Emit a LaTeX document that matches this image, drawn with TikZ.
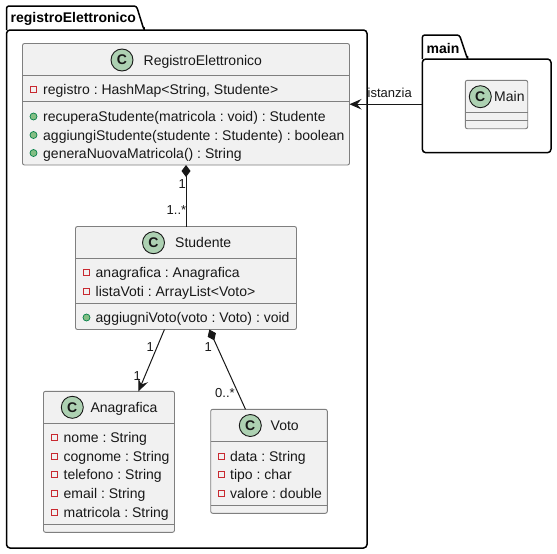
\documentclass[tikz,border=0pt]{standalone}
\usepackage{fontspec}
\setmainfont{Liberation Sans}
\frenchspacing
\usetikzlibrary{arrows.meta}
\definecolor{boxfill}{HTML}{F1F1F1}
\definecolor{boxline}{HTML}{7F7F7F}
\definecolor{inkc}{HTML}{181818}
\definecolor{spot}{HTML}{ADD1B2}
\definecolor{privc}{HTML}{C82930}
\definecolor{pubf}{HTML}{84BE84}
\definecolor{publ}{HTML}{038048}
\tikzset{
  umlbox/.style={draw=boxline,fill=boxfill,line width=0.9pt,rounded corners=2pt,inner sep=0pt,outer sep=0pt},
  hairline/.style={draw=boxline,line width=0.9pt},
  spotc/.style={circle,draw=inkc,fill=spot,line width=0.9pt,minimum size=22pt,inner sep=0pt,font=\fontsize{14}{16}\selectfont\bfseries,text=inkc},
  titletext/.style={anchor=base west,inner sep=0pt,font=\fontsize{14}{16}\selectfont,text=inkc},
  rowtext/.style={anchor=base west,inner sep=0pt,font=\fontsize{14}{16}\selectfont,text=inkc},
  lbl/.style={anchor=base west,inner sep=0pt,font=\fontsize{13}{15}\selectfont,text=inkc},
  privmark/.style={rectangle,draw=privc,line width=0.9pt,minimum size=6pt,inner sep=0pt},
  pubmark/.style={circle,draw=publ,fill=pubf,line width=0.7pt,minimum size=7pt,inner sep=0pt},
  pkgline/.style={draw=black,line width=1.5pt,line join=round},
  pkgtext/.style={anchor=base west,inner sep=0pt,font=\fontsize{14}{16}\selectfont\bfseries,text=black},
  conn/.style={draw=inkc,line width=1pt},
  comp/.style={conn,{Diamond[length=12pt,width=9pt,fill=inkc]}-},
  assoc/.style={conn,-{Stealth[length=12pt,width=10.5pt,inset=4.5pt,fill=inkc]}},
}
\newcommand{\privrow}[5]{\node[privmark] (#1m) at (#2,#4) {}; \node[rowtext] (#1t) at (#3,#4+5) {#5};}
\newcommand{\pubrow}[5]{\node[pubmark] (#1m) at (#2,#4) {}; \node[rowtext] (#1t) at (#3,#4+5) {#5};}
\begin{document}
\begin{tikzpicture}[x=1pt,y=-1pt]
\useasboundingbox (0,0) rectangle (557,554);
\fill[white] (0,0) rectangle (557,554);

% package registroElettronico
\node[minimum width=360.5pt,minimum height=518pt,inner sep=0pt,outer sep=0pt] (pkgreg) at (186.75,289) {};
\draw[pkgline,rounded corners=2.5pt] (6.5,30) -- (6.5,6) -- (136.5,6) -- (144,30) -- (144,30);
\draw[pkgline,rounded corners=3.5pt] (6.5,30) -- (367,30) -- (367,548) -- (6.5,548) -- cycle;
\node[pkgtext] (pkgregt) at (10.5,23) {registroElettronico};

% package main
\node[minimum width=128.7pt,minimum height=93.7pt,inner sep=0pt,outer sep=0pt] (pkgmain) at (486.65,105.85) {};
\draw[pkgline,rounded corners=2.5pt] (422.3,59) -- (422.3,35) -- (459.5,35) -- (467.5,59) -- (467.5,59);
\draw[pkgline,rounded corners=3.5pt] (422.3,59) -- (551,59) -- (551,152.7) -- (422.3,152.7) -- cycle;
\node[pkgtext] (pkgmaint) at (426.5,53) {main};

% RegistroElettronico
\node[umlbox,minimum width=327pt,minimum height=121.5pt] (reg) at (186,104.25) {};
\draw[hairline] (22.5,75.5) -- (349.5,75.5) (22.5,101.5) -- (349.5,101.5);
\node[spotc] (regc) at (122,60) {C};
\node[titletext] (regt) at (143.5,65) {RegistroElettronico};
\privrow{ra}{33.5}{43}{89.5}{registro : HashMap<String, Studente>}
\pubrow{rb}{33.5}{43}{116.5}{recuperaStudente(matricola : void) : Studente}
\pubrow{rc}{33.5}{43}{135}{aggiungiStudente(studente : Studente) : boolean}
\pubrow{rd}{33.5}{43}{153}{generaNuovaMatricola() : String}

% Studente
\node[umlbox,minimum width=221pt,minimum height=103pt] (stu) at (186,278) {};
\draw[hairline] (75.5,258.7) -- (296.5,258.7) (75.5,303.7) -- (296.5,303.7);
\node[spotc] (stuc) at (153.5,242.7) {C};
\node[titletext] (stut) at (175,247.7) {Studente};
\privrow{sa}{86.5}{95.5}{272.5}{anagrafica : Anagrafica}
\privrow{sb}{86.5}{95.5}{291}{listaVoti : ArrayList<Voto>}
\pubrow{sc}{86.5}{95.5}{317.5}{aggiugniVoto(voto : Voto) : void}

% Anagrafica
\node[umlbox,minimum width=131pt,minimum height=141pt] (ana) at (109,461.8) {};
\draw[hairline] (43.5,423.3) -- (174.5,423.3) (43.5,524.3) -- (174.5,524.3);
\node[spotc] (anac) at (72.3,407.3) {C};
\node[titletext] (anat) at (90.3,412.3) {Anagrafica};
\privrow{aa}{54.5}{63.5}{437.5}{nome : String}
\privrow{ab}{54.5}{63.5}{456}{cognome : String}
\privrow{ac}{54.5}{63.5}{474.5}{telefono : String}
\privrow{ad}{54.5}{63.5}{493}{email : String}
\privrow{ae}{54.5}{63.5}{512}{matricola : String}

% Voto
\node[umlbox,minimum width=116.6pt,minimum height=104pt] (vot) at (269,461.3) {};
\draw[hairline] (210.7,441.3) -- (327.3,441.3) (210.7,505.3) -- (327.3,505.3);
\node[spotc] (votc) at (250.3,425.5) {C};
\node[titletext] (vott) at (270.5,430.5) {Voto};
\privrow{va}{221.5}{230}{456}{data : String}
\privrow{vb}{221.5}{230}{474.5}{tipo : char}
\privrow{vc}{221.5}{230}{493}{valore : double}

% Main
\node[umlbox,minimum width=62.4pt,minimum height=48.4pt] (mainc) at (496.5,104.5) {};
\draw[hairline] (465.3,112.7) -- (527.7,112.7) (465.3,120) -- (527.7,120);
\node[spotc] (mainci) at (480.3,96.7) {C};
\node[titletext] (maint) at (494,101.7) {Main};

% connectors
\draw[comp] (reg.south) -- (stu.north);
\draw[assoc] (stu) -- (ana);
\draw[comp] (stu) -- (vot);
\draw[assoc] (pkgmain.west |- reg.east) -- (reg.east);

% labels
\node[lbl] (l1) at (178.5,188.5) {1};
\node[lbl] (l2) at (166.5,214.5) {1..*};
\node[lbl] (l3) at (146.5,351.5) {1};
\node[lbl] (l4) at (133.5,380) {1};
\node[lbl] (l5) at (204.5,351.5) {1};
\node[lbl] (l6) at (215,397.5) {0..*};
\node[lbl] (l7) at (367.5,97.5) {istanzia};
\end{tikzpicture}
\end{document}
